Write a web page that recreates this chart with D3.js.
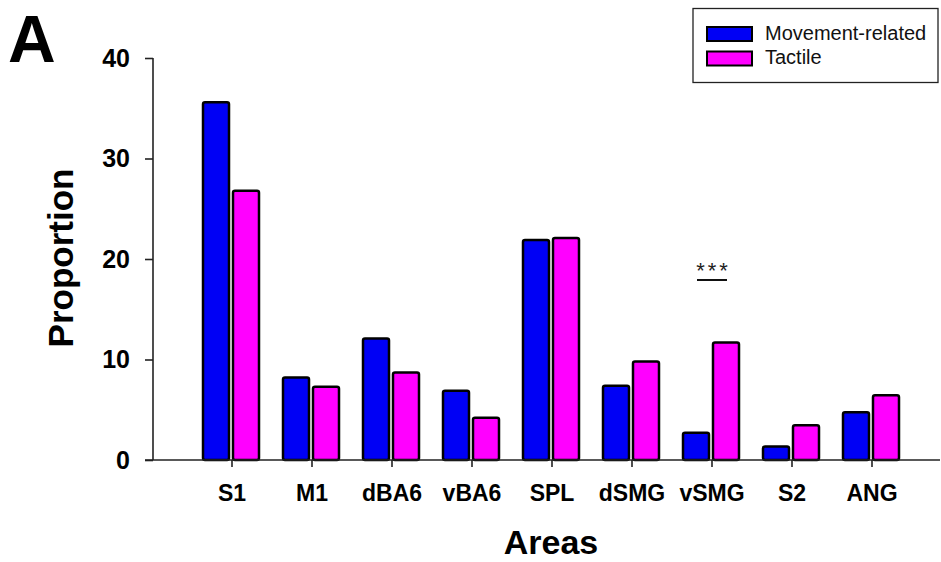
<!DOCTYPE html>
<html>
<head>
<meta charset="utf-8">
<script src="https://cdn.jsdelivr.net/npm/d3@7"></script>
<style>
  html, body { margin: 0; padding: 0; background: #fff; }
  svg { display: block; }
  text { font-family: Arial, "Liberation Sans", Helvetica, sans-serif; }
</style>
</head>
<body>
<svg id="chart" width="941" height="562"></svg>
<script>
const categories = ["S1", "M1", "dBA6", "vBA6", "SPL", "dSMG", "vSMG", "S2", "ANG"];
const seriesNames = ["Movement-related", "Tactile"];
const movementValues = [35.6, 8.2, 12.1, 6.9, 21.9, 7.4, 2.7, 1.35, 4.75];
const tactileValues = [26.8, 7.3, 8.7, 4.2, 22.1, 9.8, 11.7, 3.45, 6.45];
const yTicks = [0, 10, 20, 30, 40];
const seriesColors = ["#0000f5", "#ff00ff"];

const svg = d3.select("#chart");

const x = d3.scaleBand().domain(categories).range([192, 912]).padding(0);
const xInner = d3.scaleBand().domain(seriesNames).range([-29, 27]).paddingInner(0.133).paddingOuter(0);
const y = d3.scaleLinear().domain([0, 40]).range([460, 58]);

const data = categories.map((c, i) => ({
  cat: c,
  vals: [movementValues[i], tactileValues[i]]
}));

// Panel letter
svg.append("text").attr("x", 8).attr("y", 62)
  .attr("font-size", 66).attr("font-weight", "bold").text("A");

// Bars
const groups = svg.append("g").selectAll("g").data(data).join("g")
  .attr("transform", d => `translate(${x(d.cat) + x.bandwidth() / 2},0)`);
groups.selectAll("rect").data(d => d.vals.map((v, j) => ({ name: seriesNames[j], v, j })))
  .join("rect")
  .attr("x", d => xInner(d.name))
  .attr("width", xInner.bandwidth())
  .attr("y", d => y(d.v))
  .attr("height", d => y(0) - y(d.v))
  .attr("rx", 2)
  .attr("fill", d => seriesColors[d.j])
  .attr("stroke", "#000")
  .attr("stroke-width", 2.5);

// Y axis
const yAxis = svg.append("g").attr("transform", "translate(153,0)")
  .call(d3.axisLeft(y).tickValues(yTicks).tickSize(8).tickPadding(15).tickSizeOuter(0));
yAxis.select(".domain").attr("stroke", "#222").attr("stroke-width", 1.6)
  .attr("d", `M0,${y(40)}V${y(0)}`);
yAxis.selectAll(".tick line").attr("stroke", "#222").attr("stroke-width", 1.6);
yAxis.selectAll(".tick text").attr("font-size", 25).attr("font-weight", "bold")
  .attr("fill", "#000").attr("font-family", "Arial, 'Liberation Sans', sans-serif");

// X axis
const xAxis = svg.append("g").attr("transform", `translate(0,${y(0)})`)
  .call(d3.axisBottom(x).tickSize(7).tickPadding(18).tickSizeOuter(0));
xAxis.select(".domain").attr("stroke", "#222").attr("stroke-width", 1.6)
  .attr("d", "M145,0H940");
xAxis.selectAll(".tick line").attr("stroke", "#222").attr("stroke-width", 1.6);
xAxis.selectAll(".tick text").attr("font-size", 23).attr("font-weight", "bold")
  .attr("fill", "#000").attr("font-family", "Arial, 'Liberation Sans', sans-serif");

// Axis titles
svg.append("text").attr("transform", "translate(73,258) rotate(-90)")
  .attr("text-anchor", "middle").attr("font-size", 35).attr("font-weight", "bold")
  .text("Proportion");
svg.append("text").attr("x", 551).attr("y", 554)
  .attr("text-anchor", "middle").attr("font-size", 34).attr("font-weight", "bold")
  .text("Areas");

// Significance marker on vSMG
const sigX = x("vSMG") + x.bandwidth() / 2;
svg.append("text").attr("x", sigX + 1.5).attr("y", 278)
  .attr("text-anchor", "middle").attr("font-size", 22).attr("fill", "#222")
  .attr("letter-spacing", 3).text("***");
svg.append("line").attr("x1", sigX - 15).attr("x2", sigX + 15)
  .attr("y1", 280).attr("y2", 280).attr("stroke", "#111").attr("stroke-width", 2);

// Legend
const lg = svg.append("g");
lg.append("rect").attr("x", 693).attr("y", 8.5).attr("width", 245).attr("height", 74)
  .attr("fill", "#fff").attr("stroke", "#222").attr("stroke-width", 1.3);
seriesNames.forEach((n, i) => {
  lg.append("rect").attr("x", 707).attr("y", 27 + i * 24.5).attr("width", 45).attr("height", 14)
    .attr("fill", seriesColors[i]).attr("stroke", "#000").attr("stroke-width", 2);
  lg.append("text").attr("x", 765).attr("y", 39.5 + i * 24.5)
    .attr("font-size", 20).attr("fill", "#111").text(n);
});
</script>
</body>
</html>
